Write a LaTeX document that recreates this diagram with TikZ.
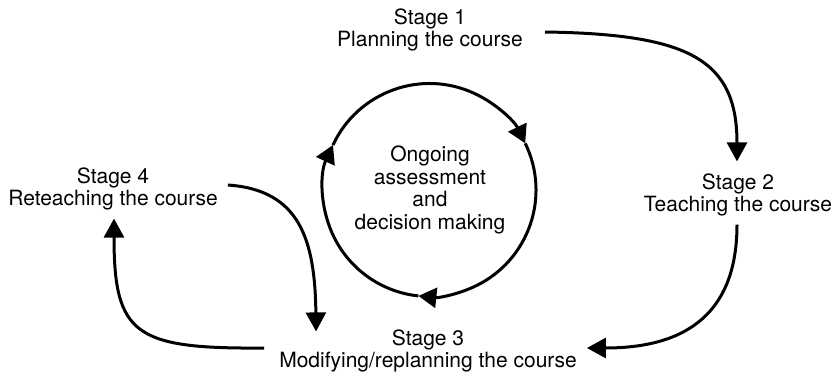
\documentclass[tikz,border=0pt]{standalone}
\usepackage{fontspec}
\setmainfont{TeX Gyre Heros}
\usetikzlibrary{arrows.meta}
\begin{document}
\begin{tikzpicture}[x=1pt,y=-1pt,
  lbl/.style={align=center,inner sep=0pt,font=\fontsize{21}{22.5}\selectfont},
  conn/.style={line width=3pt,-{Triangle[length=19pt,width=20pt]}},
  cyc/.style={line width=3pt,-{Triangle[length=18pt,width=20pt]}}]
\useasboundingbox (0,0) rectangle (837,375);
\node[lbl] (s1) at (430,30) {Stage 1\\Planning the course};
\node[lbl] (s2) at (738,195) {Stage 2\\Teaching the course};
\node[lbl] (s3) at (428,351) {Stage 3\\Modifying/replanning the course};
\node[lbl] (s4) at (113,189) {Stage 4\\Reteaching the course};
\node[lbl] (mid) at (430,190) {Ongoing\\assessment\\and\\decision making};
\coordinate (c) at (429.5,190);
% cycle circle
\draw[cyc] (c) ++(155:106.5pt) arc[start angle=155, end angle=26, radius=106.5pt];
\draw[cyc] (c) ++(26:106.5pt) arc[start angle=26, end angle=-96, radius=106.5pt];
\draw[cyc] (c) ++(-96:106.5pt) arc[start angle=-96, end angle=-205, radius=106.5pt];
% stage connectors
\coordinate (a1) at ([xshift=22pt,yshift=-2pt]s1.east);
\coordinate (b1) at ([xshift=-1pt,yshift=12pt]s2.north);
\draw[conn] (a1) .. controls (690,34) and (737,60) .. (b1);
\coordinate (a2) at ([xshift=-1pt,yshift=-8pt]s2.south);
\coordinate (b2) at ([xshift=10pt,yshift=3pt]s3.east);
\draw[conn] (a2) .. controls (737,310) and (690,348) .. (b2);
\coordinate (a3) at ([xshift=-15pt,yshift=3pt]s3.west);
\coordinate (b3) at ([xshift=1pt,yshift=-8pt]s4.south);
\draw[conn] (a3) .. controls (135,349) and (114,335) .. (b3);
\coordinate (a4) at ([xshift=10pt,yshift=4pt]s4.east);
\coordinate (b4) at ([xshift=37pt,yshift=-2pt]s3.north west);
\draw[conn] (a4) .. controls (300,190) and (315,240) .. (b4);
\end{tikzpicture}
\end{document}
